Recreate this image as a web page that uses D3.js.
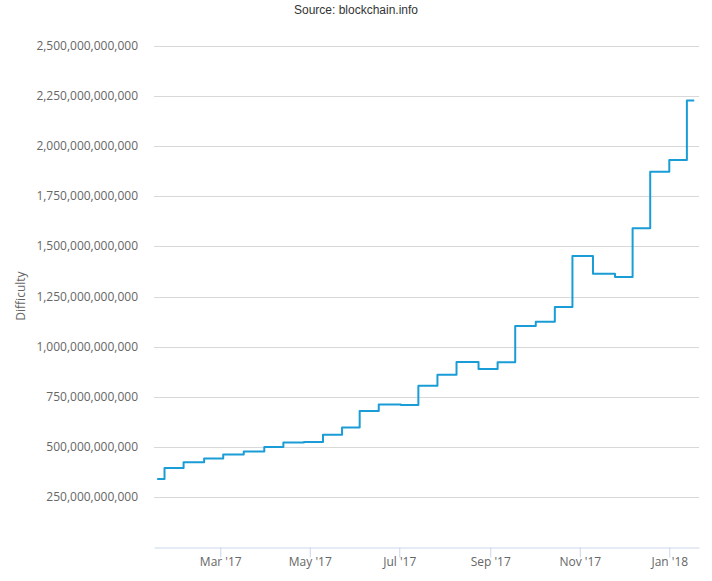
<!DOCTYPE html>
<html>
<head>
<meta charset="utf-8">
<script src="https://cdn.jsdelivr.net/npm/d3@7"></script>
<style>
  body { margin: 0; background: #fff; }
  svg { display: block; }
</style>
</head>
<body>
<script>
// difficulty adjustments (date of change, new difficulty)
let stepDates = [
  "2017-01-17", "2017-01-22", "2017-02-04", "2017-02-18", "2017-03-03",
  "2017-03-17", "2017-03-31", "2017-04-13", "2017-04-27", "2017-05-10",
  "2017-05-23", "2017-06-04", "2017-06-17", "2017-07-02", "2017-07-14",
  "2017-07-27", "2017-08-09", "2017-08-24", "2017-09-06", "2017-09-18",
  "2017-10-02", "2017-10-15", "2017-10-27", "2017-11-10", "2017-11-25",
  "2017-12-07", "2017-12-19", "2018-01-01", "2018-01-13", "2018-01-18"
];
let difficulty = [
  339e9, 394e9, 423e9, 441e9, 461e9,
  476e9, 499.5e9, 521e9, 523.5e9, 560e9,
  596e9, 679e9, 711e9, 708.5e9, 805e9,
  860e9, 923e9, 888e9, 922.5e9, 1103e9,
  1124e9, 1197e9, 1452e9, 1364e9, 1347e9,
  1591e9, 1873e9, 1931e9, 2228e9, 2228e9
];
let yTicks = [250e9, 500e9, 750e9, 1000e9, 1250e9, 1500e9, 1750e9, 2000e9, 2250e9, 2500e9];
let xTickDates = ["2017-03-01", "2017-05-01", "2017-07-01", "2017-09-01", "2017-11-01", "2018-01-01"];

let width = 712, height = 581;
let margin = {left: 154, right: 13, top: 46, bottom: 34};

let parse = d3.timeParse("%Y-%m-%d");
let data = stepDates.map((d, i) => ({date: parse(d), value: difficulty[i]}));

let svg = d3.select("body")
.append("svg")
.attr("width", width)
.attr("height", height);

let x = d3.scaleTime()
.domain([new Date(2017, 0, 14, 20), new Date(2018, 0, 21, 6)])
.range([margin.left, width - margin.right]);

let y = d3.scaleLinear()
.domain([0, 2500e9])
.range([height - margin.bottom, margin.top]);

// grid
svg.append("g")
.selectAll("line")
.data(yTicks)
.enter()
.append("line")
.attr("x1", margin.left)
.attr("x2", width - margin.right)
.attr("y1", d => Math.round(y(d)) + 0.5)
.attr("y2", d => Math.round(y(d)) + 0.5)
.attr("stroke", "#d8d8d8")
.attr("stroke-width", 1);

// y labels
let fmt = d3.format(",.0f");
svg.append("g")
.attr("font-family", "'Open Sans', sans-serif")
.attr("font-size", 12)
.attr("fill", "#666")
.attr("text-anchor", "end")
.selectAll("text")
.data(yTicks)
.enter()
.append("text")
.attr("x", 138)
.attr("y", d => y(d) + 4)
.text(d => fmt(d));

// x axis
let xAxis = d3.axisBottom(x)
.tickValues(xTickDates.map(parse))
.tickFormat(d3.timeFormat("%b '%y"))
.tickSizeInner(10)
.tickSizeOuter(0)
.tickPadding(0);

let gx = svg.append("g")
.attr("transform", "translate(0," + (Math.round(y(0)) + 0.5) + ")")
.call(xAxis);
gx.select(".domain").attr("stroke", "#ccd6eb");
gx.selectAll(".tick line").attr("stroke", "#ccd6eb");
gx.selectAll(".tick text")
.attr("font-family", "'Open Sans', sans-serif")
.attr("font-size", 12)
.attr("fill", "#666");

// line
let line = d3.line()
.curve(d3.curveStepAfter)
.x(d => x(d.date))
.y(d => y(d.value));

svg.append("path")
.datum(data)
.attr("fill", "none")
.attr("stroke", "#1a9dd6")
.attr("stroke-width", 2)
.attr("stroke-linejoin", "round")
.attr("d", line);

// titles
svg.append("text")
.attr("x", 356)
.attr("y", 14)
.attr("text-anchor", "middle")
.attr("font-family", "'Liberation Sans', Arial, sans-serif")
.attr("font-size", 12)
.attr("fill", "#333")
.text("Source: blockchain.info");

svg.append("text")
.attr("transform", "translate(25,296) rotate(-90)")
.attr("text-anchor", "middle")
.attr("font-family", "'Open Sans', sans-serif")
.attr("font-size", 12)
.attr("fill", "#666")
.text("Difficulty");
</script>
</body>
</html>
